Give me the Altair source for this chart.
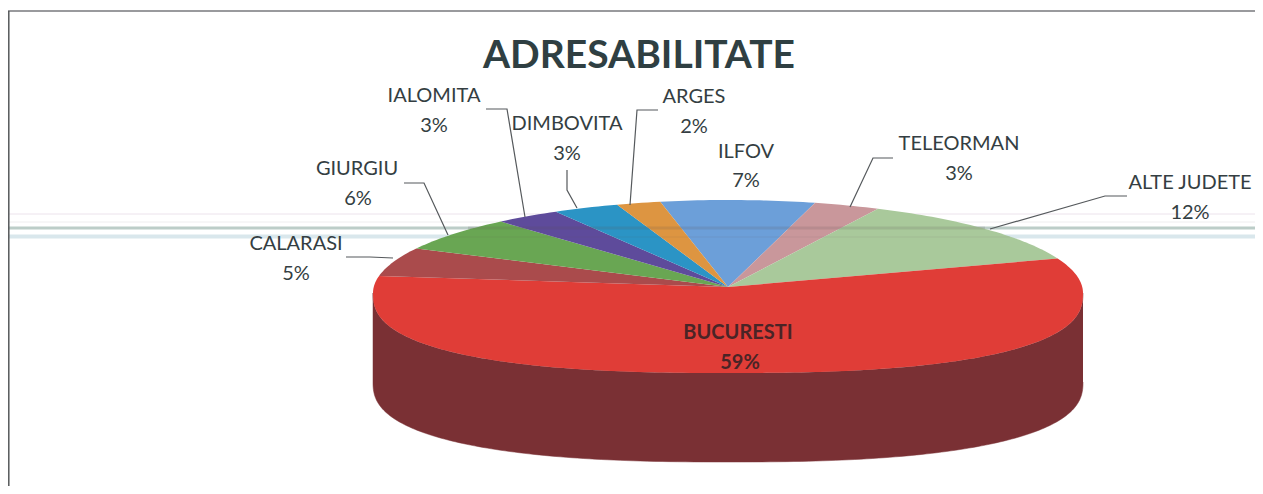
import math
import altair as alt
import pandas as pd

# ---- chart values (clockwise from the top) ----
slices = ["ILFOV", "TELEORMAN", "ALTE JUDETE", "BUCURESTI", "CALARASI",
          "GIURGIU", "IALOMITA", "DIMBOVITA", "ARGES"]
shares = [7, 3, 12, 59, 5, 6, 3, 3, 2]
colors = ["#6c9fd9", "#c9979b", "#a9c99b", "#e03d37", "#aa4b4c",
          "#69a653", "#5e4b9b", "#2b94c5", "#dd9541"]
title_text = "ADRESABILITATE"

# ---- layout of the drawing (in page pixels) ----
W, H = 1247, 478
CX, CY, RX, DEPTH = 728, 287, 355, 89
RIM_Y, BACK_RY, FRONT_RY, FRONT_EXP = 293, 93, 80, 0.8
START = -11.0

label_pos = {
    "ILFOV": (746, 152, 746, 181), "TELEORMAN": (959, 144, 959, 174),
    "ALTE JUDETE": (1190, 183, 1190, 213), "BUCURESTI": (738, 333, 740, 363),
    "CALARASI": (296, 244, 296, 274), "GIURGIU": (357, 169, 358, 199),
    "IALOMITA": (434, 96, 434, 126), "DIMBOVITA": (567, 124, 567, 154),
    "ARGES": (694, 97, 694, 127),
}
leaders = {
    "IALOMITA": [(486, 109), (507, 109), (525, 217)],
    "DIMBOVITA": [(567, 170), (567, 190), (577, 208)],
    "ARGES": [(658, 110), (637, 110), (630, 205)],
    "TELEORMAN": [(893, 158), (873, 158), (850, 207)],
    "ALTE JUDETE": [(1127, 196), (1105, 196), (990, 229)],
    "GIURGIU": [(404, 183), (424, 183), (448, 235)],
    "CALARASI": [(346, 257), (370, 257), (393, 258)],
}


def rim(theta, dy=0.0):
    t = math.radians(theta)
    s, c = math.sin(t), math.cos(t)
    if c >= 0:  # far half of the rim
        return CX + RX * s, RIM_Y - BACK_RY * c + dy
    # near half: fuller outline, as in the perspective of the picture
    sx = math.copysign(abs(s) ** FRONT_EXP, s)
    return CX + RX * sx, RIM_Y + FRONT_RY * abs(c) ** FRONT_EXP + dy


# wedges of the top face, from the shares
rows = []
a = START
for name, share in zip(slices, shares):
    sweep = share * 3.6
    pts = [(CX, CY)]
    n = max(4, int(sweep))
    pts += [rim(a + sweep * i / n) for i in range(n + 1)]
    pts.append((CX, CY))
    for i, (x, y) in enumerate(pts):
        rows.append({"slice": name, "o": i, "x": x, "y": y})
    a += sweep
top_df = pd.DataFrame(rows)

# visible wall of the pie
wall = [rim(90 + i) for i in range(181)] + [rim(270 - i, DEPTH) for i in range(181)]
wall_df = pd.DataFrame([{"o": i, "x": x, "y": y} for i, (x, y) in enumerate(wall)])

xs = alt.Scale(domain=[8, 8 + W], range=[0, W], nice=False, zero=False)
ys = alt.Scale(domain=[8, 8 + H], range=[0, H], nice=False, zero=False)
X = lambda f="x": alt.X(f"{f}:Q", scale=xs, axis=None)
Y = lambda f="y": alt.Y(f"{f}:Q", scale=ys, axis=None)


def band(y, x0, x1, color, w, op=1.0):
    d = pd.DataFrame({"x": [x0], "x2": [x1], "y": [y]})
    return alt.Chart(d).mark_rule(color=color, strokeWidth=w, opacity=op).encode(
        x=X(), x2="x2:Q", y=Y())


R = 8 + W
back = [
    band(214, 8, R, "#ece3ec", 1),
    band(222, 8, R, "#efeeef", 1),
    band(228, 8, R, "#bccdc8", 3),
    band(236.5, 8, R, "#d9e7ec", 4),
    band(11, 8, R, "#77797c", 1.5),
]
frame_left = alt.Chart(pd.DataFrame({"x": [8.8], "y": [11], "y2": [8 + H]})).mark_rule(
    color="#55585a", strokeWidth=1.5).encode(x=X(), y=Y(), y2="y2:Q")

wall_mark = alt.Chart(wall_df).mark_line(fill="#7a3034", stroke="#7a3034", strokeWidth=0.5).encode(
    x=X(), y=Y(), order="o:Q")

top_mark = alt.Chart(top_df).mark_line(strokeWidth=0).encode(
    x=X(), y=Y(), order="o:Q", detail="slice:N",
    fill=alt.Fill("slice:N", scale=alt.Scale(domain=slices, range=colors), legend=None),
)

over = [
    band(228, 468, 985, "#5b5050", 3, 0.16),
    band(237, 445, 1010, "#5b5050", 2, 0.05),
]

lead_rows = []
for name, pts in leaders.items():
    for i, (x, y) in enumerate(pts):
        lead_rows.append({"slice": name, "o": i, "x": x, "y": y})
lead_mark = alt.Chart(pd.DataFrame(lead_rows)).mark_line(color="#55595c", strokeWidth=1.2).encode(
    x=X(), y=Y(), order="o:Q", detail="slice:N")

lab_rows = []
for name, share in zip(slices, shares):
    x1, y1, x2, y2 = label_pos[name]
    lab_rows.append({"t": name, "x": x1, "y": y1, "b": name == "BUCURESTI"})
    lab_rows.append({"t": f"{share}%", "x": x2, "y": y2, "b": name == "BUCURESTI"})
lab_df = pd.DataFrame(lab_rows)
font = "Lato"
labels = alt.Chart(lab_df[~lab_df.b]).mark_text(
    font=font, fontSize=20, color="#343e42", align="center", baseline="middle").encode(
    x=X(), y=Y(), text="t:N")
labels_b = alt.Chart(lab_df[lab_df.b]).mark_text(
    font=font, fontSize=20, fontWeight="bold", color="#4a2426", align="center", baseline="middle").encode(
    x=X(), y=Y(), text="t:N")
title = alt.Chart(pd.DataFrame({"t": [title_text], "x": [639], "y": [56]})).mark_text(
    font=font, fontSize=39, fontWeight="bold", color="#2f3f42", align="center", baseline="middle").encode(
    x=X(), y=Y(), text="t:N")

chart = alt.layer(*back, frame_left, wall_mark, top_mark, *over, lead_mark, labels, labels_b, title).properties(
    width=W, height=H, padding=0, autosize=alt.AutoSizeParams(type="none"), background="#ffffff"
).configure_view(stroke=None)

chart.save("out.html", embed_options={"renderer": "svg", "actions": False})
